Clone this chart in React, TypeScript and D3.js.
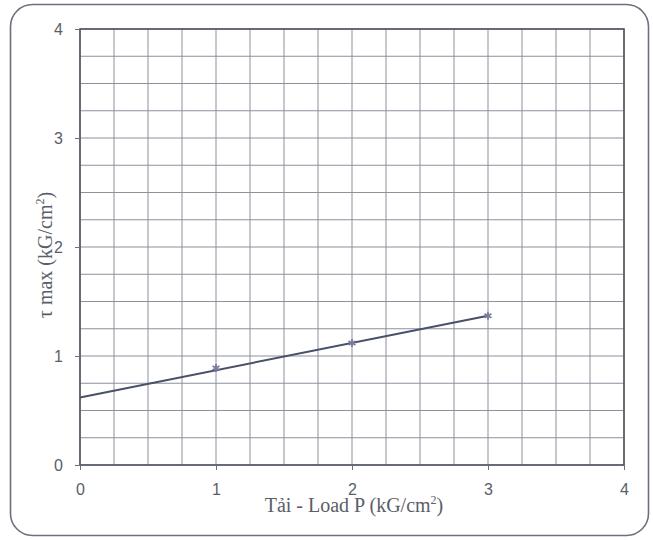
import React, {useEffect, useRef} from 'react';
import * as d3 from 'd3';

// measured points
const loads = [1, 2, 3];
const tauMax = [0.89, 1.12, 1.37];
// fitted line drawn through them
const trendX = [0, 3];
const trendY = [0.62, 1.37];
const tickLabels = [0, 1, 2, 3, 4];

const App = () => {
  const chart = useRef<SVGSVGElement>(null);

  useEffect(() => {
    const svg = d3.select(chart.current);
    svg.selectAll('*').remove();

    const left = 80, right = 624, top = 29, bottom = 465;
    const x = d3.scaleLinear().domain([0, 4]).range([left, right]);
    const y = d3.scaleLinear().domain([0, 4]).range([bottom, top]);
    const grey = '#5a5e68';

    svg.append('rect')
      .attr('x', 10.5).attr('y', 4.5)
      .attr('width', 638).attr('height', 531)
      .attr('rx', 22)
      .attr('fill', 'white')
      .attr('stroke', '#6b707c')
      .attr('stroke-width', 1.6);

    const minor = d3.range(0, 4.001, 0.25);
    svg.append('g').selectAll('line')
      .data(minor)
      .enter().append('line')
      .attr('x1', d => x(d)).attr('x2', d => x(d))
      .attr('y1', top).attr('y2', bottom)
      .attr('stroke', '#8c919c').attr('stroke-width', 1);
    svg.append('g').selectAll('line')
      .data(minor)
      .enter().append('line')
      .attr('y1', d => y(d)).attr('y2', d => y(d))
      .attr('x1', left).attr('x2', right)
      .attr('stroke', '#8c919c').attr('stroke-width', 1);

    svg.append('rect')
      .attr('x', left).attr('y', top)
      .attr('width', right - left).attr('height', bottom - top)
      .attr('fill', 'none')
      .attr('stroke', '#4f5460').attr('stroke-width', 1.6);

    const xAxis = svg.append('g')
      .attr('transform', `translate(0,${bottom})`)
      .call(d3.axisBottom(x).tickValues(tickLabels).tickSize(5).tickPadding(14).tickFormat(d3.format('d')));
    const yAxis = svg.append('g')
      .attr('transform', `translate(${left},0)`)
      .call(d3.axisLeft(y).tickValues(tickLabels).tickSize(5).tickPadding(12).tickFormat(d3.format('d')));
    [xAxis, yAxis].forEach(g => {
      g.select('.domain').remove();
      g.selectAll('line').attr('stroke', '#6b707c');
      g.selectAll('text')
        .attr('fill', grey)
        .style('font-family', 'Liberation Sans, Arial, sans-serif')
        .style('font-size', '16px');
    });

    const line = d3.line<number>()
      .x(d => x(d))
      .y((d, i) => y(trendY[i]));
    svg.append('path')
      .attr('d', line(trendX))
      .attr('fill', 'none')
      .attr('stroke', '#4a4f6a')
      .attr('stroke-width', 2);

    const star = d3.symbol().type(d3.symbolAsterisk).size(45);
    svg.append('g').selectAll('path')
      .data(loads)
      .enter().append('path')
      .attr('d', star)
      .attr('transform', (d, i) => `translate(${x(d)},${y(tauMax[i])})`)
      .attr('fill', 'none')
      .attr('stroke', '#7a7c9c')
      .attr('stroke-width', 1.8);

    const xt = svg.append('text')
      .attr('x', 354).attr('y', 512)
      .attr('text-anchor', 'middle')
      .attr('fill', grey)
      .style('font-family', 'Liberation Serif, Times New Roman, serif')
      .style('font-size', '20px');
    xt.append('tspan').text('Tải - Load P (kG/cm');
    xt.append('tspan').attr('dy', -8).style('font-size', '12px').text('2');
    xt.append('tspan').attr('dy', 8).text(')');

    const yt = svg.append('text')
      .attr('transform', 'translate(52,255) rotate(-90)')
      .attr('text-anchor', 'middle')
      .attr('fill', grey)
      .style('font-family', 'Liberation Serif, Times New Roman, serif')
      .style('font-size', '20px');
    yt.append('tspan').text('τ max (kG/cm');
    yt.append('tspan').attr('dy', -8).style('font-size', '12px').text('2');
    yt.append('tspan').attr('dy', 8).text(')');
  }, []);

  return (
    <svg ref={chart} width={653} height={540} style={{position: 'absolute', left: 0, top: 0}}></svg>
  );
};

export default App;
